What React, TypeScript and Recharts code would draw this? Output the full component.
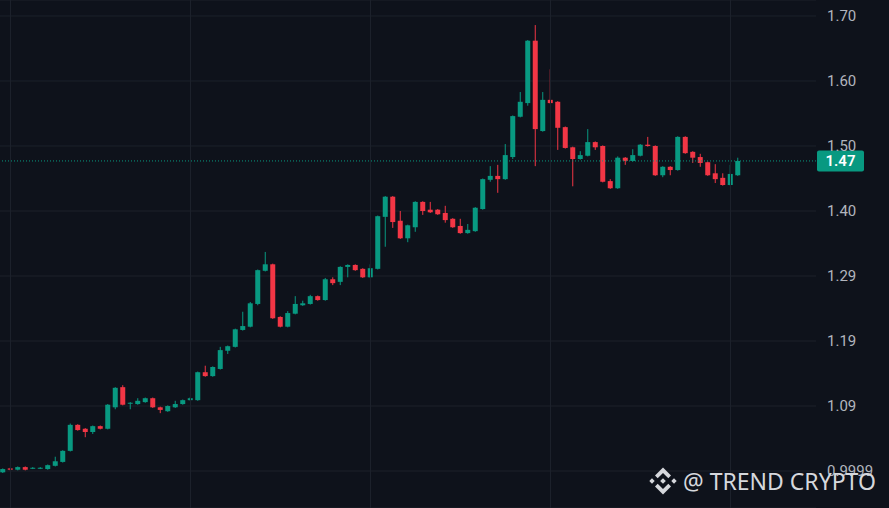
import {
  Bar,
  CartesianGrid,
  ComposedChart,
  ReferenceLine,
  XAxis,
  YAxis,
} from "recharts";

const opens = [
  0.998, 1.004, 1.002, 1.006, 1.004, 1.004, 1.003, 1.008, 1.014, 1.031,
  1.071, 1.065, 1.06, 1.069, 1.065, 1.098, 1.129, 1.104, 1.103, 1.106,
  1.112, 1.098, 1.092, 1.098, 1.103, 1.109, 1.109, 1.152, 1.146, 1.157,
  1.185, 1.191, 1.217, 1.222, 1.257, 1.308, 1.318, 1.237, 1.222, 1.242,
  1.255, 1.257, 1.269, 1.263, 1.295, 1.291, 1.314, 1.317, 1.311, 1.298,
  1.311, 1.391, 1.422, 1.385, 1.358, 1.375, 1.414, 1.402, 1.402, 1.397,
  1.388, 1.377, 1.366, 1.369, 1.403, 1.448, 1.454, 1.449, 1.483, 1.545,
  1.566, 1.662, 1.523, 1.571, 1.568, 1.529, 1.498, 1.48, 1.485, 1.506,
  1.5, 1.446, 1.435, 1.482, 1.477, 1.485, 1.502, 1.5, 1.455, 1.468,
  1.463, 1.514, 1.491, 1.483, 1.475, 1.458, 1.451, 1.44, 1.455,
];
const highs = [
  1.004, 1.005, 1.007, 1.007, 1.006, 1.006, 1.01, 1.022, 1.032, 1.073,
  1.072, 1.066, 1.07, 1.07, 1.103, 1.129, 1.132, 1.106, 1.112, 1.113,
  1.113, 1.099, 1.101, 1.108, 1.11, 1.114, 1.153, 1.162, 1.161, 1.191,
  1.193, 1.219, 1.245, 1.26, 1.31, 1.337, 1.319, 1.238, 1.246, 1.269,
  1.262, 1.271, 1.27, 1.297, 1.298, 1.315, 1.318, 1.318, 1.312, 1.318,
  1.393, 1.423, 1.423, 1.4, 1.379, 1.415, 1.415, 1.414, 1.403, 1.408,
  1.389, 1.388, 1.38, 1.406, 1.45, 1.469, 1.471, 1.503, 1.547, 1.583,
  1.663, 1.686, 1.583, 1.618, 1.569, 1.53, 1.499, 1.492, 1.526, 1.507,
  1.501, 1.449, 1.484, 1.483, 1.495, 1.503, 1.514, 1.501, 1.469, 1.469,
  1.515, 1.515, 1.492, 1.488, 1.476, 1.472, 1.458, 1.471, 1.482,
];
const lows = [
  0.997, 1.001, 1.001, 1.001, 1.003, 1.003, 1.002, 1.007, 1.013, 1.03,
  1.062, 1.052, 1.057, 1.064, 1.064, 1.095, 1.101, 1.095, 1.102, 1.105,
  1.097, 1.089, 1.091, 1.097, 1.102, 1.108, 1.108, 1.145, 1.145, 1.156,
  1.18, 1.19, 1.216, 1.221, 1.255, 1.307, 1.234, 1.221, 1.221, 1.241,
  1.254, 1.256, 1.262, 1.262, 1.286, 1.286, 1.298, 1.308, 1.297, 1.297,
  1.31, 1.345, 1.374, 1.357, 1.352, 1.368, 1.394, 1.397, 1.394, 1.382,
  1.374, 1.365, 1.365, 1.368, 1.402, 1.445, 1.428, 1.448, 1.48, 1.544,
  1.562, 1.469, 1.522, 1.565, 1.494, 1.496, 1.438, 1.479, 1.484, 1.494,
  1.444, 1.434, 1.434, 1.471, 1.476, 1.484, 1.499, 1.454, 1.452, 1.455,
  1.462, 1.488, 1.474, 1.468, 1.454, 1.443, 1.439, 1.439, 1.454,
];
const closes = [
  1.003, 1.002, 1.006, 1.002, 1.005, 1.005, 1.009, 1.015, 1.031, 1.071,
  1.063, 1.06, 1.069, 1.065, 1.102, 1.128, 1.102, 1.105, 1.108, 1.112,
  1.098, 1.094, 1.1, 1.103, 1.109, 1.112, 1.152, 1.146, 1.16, 1.186,
  1.192, 1.218, 1.223, 1.258, 1.309, 1.318, 1.235, 1.222, 1.243, 1.257,
  1.258, 1.269, 1.263, 1.295, 1.289, 1.314, 1.317, 1.309, 1.298, 1.312,
  1.392, 1.422, 1.383, 1.358, 1.378, 1.414, 1.4, 1.398, 1.395, 1.386,
  1.375, 1.366, 1.371, 1.405, 1.449, 1.454, 1.449, 1.486, 1.546, 1.568,
  1.662, 1.526, 1.571, 1.566, 1.528, 1.497, 1.48, 1.486, 1.506, 1.498,
  1.445, 1.435, 1.482, 1.477, 1.486, 1.502, 1.5, 1.455, 1.468, 1.463,
  1.514, 1.489, 1.482, 1.474, 1.455, 1.449, 1.44, 1.457, 1.477,
];

// price scale labels as shown on the chart
const yTicks = [1.0, 1.1, 1.2, 1.3, 1.4, 1.5, 1.6, 1.7];
const yTickLabels = ["0.9999", "1.09", "1.19", "1.29", "1.40", "1.50", "1.60", "1.70"];
// candle indexes where the vertical (session) grid lines fall
const sessionTicks = [1, 25, 49, 73, 97];

const UP = "#089981";
const DOWN = "#f23645";
const BG = "#0e121b";
const GRID = "#1c212b";

const data = opens.map((open, i) => ({
  i,
  open,
  high: highs[i],
  low: lows[i],
  close: closes[i],
  range: [lows[i], highs[i]],
}));

const lastClose = closes[closes.length - 1];

function Candle(props: any) {
  const { x, y, width, height, payload } = props;
  if (!payload) return null;
  const { open, close, high, low } = payload;
  const color = close >= open ? UP : DOWN;
  const top = Math.min(y, y + height);
  const h = Math.abs(height);
  const ratio = high > low ? h / (high - low) : 0;
  const cx = x + width / 2;
  const bodyTop = top + (high - Math.max(open, close)) * ratio;
  const bodyH = Math.max(1, Math.abs(open - close) * ratio);
  return (
    <g>
      <line x1={cx} x2={cx} y1={top} y2={top + h} stroke={color} strokeWidth={1} />
      <rect x={cx - 2.5} y={bodyTop} width={5} height={bodyH} fill={color} />
    </g>
  );
}

function PriceTag(props: any) {
  const { viewBox } = props;
  if (!viewBox) return null;
  const left = viewBox.x + viewBox.width + 1;
  const cy = viewBox.y;
  return (
    <g>
      <rect x={left} y={cy - 10.5} width={47} height={21} rx={2} fill={UP} />
      <text
        x={left + 23.5}
        y={cy + 5.5}
        textAnchor="middle"
        fill="#ffffff"
        fontSize={15}
        fontWeight={600}
        fontFamily="Roboto, sans-serif"
      >
        {(Math.floor(lastClose * 100) / 100).toFixed(2)}
      </text>
    </g>
  );
}

function BinanceMark() {
  return (
    <svg width={30} height={28} viewBox="-15 -14 30 28">
      <g fill="#d6d8dd">
        <polygon points="0,-13.5 8,-5.5 5.3,-2.8 0,-8 -5.3,-2.8 -8,-5.5" />
        <polygon points="0,13.5 8,5.5 5.3,2.8 0,8 -5.3,2.8 -8,5.5" />
        <polygon points="0,-2.8 2.8,0 0,2.8 -2.8,0" />
        <polygon points="-11,-2.7 -8.3,0 -11,2.7 -13.7,0" />
        <polygon points="11,-2.7 13.7,0 11,2.7 8.3,0" />
      </g>
    </svg>
  );
}

export default function App() {
  return (
    <div
      style={{
        position: "fixed",
        left: 0,
        top: 0,
        width: 889,
        height: 508,
        background: BG,
        overflow: "hidden",
      }}
    >
      <ComposedChart
        width={889}
        height={508}
        data={data}
        margin={{ top: 0, right: 0, bottom: 0, left: 0 }}
      >
        <CartesianGrid stroke={GRID} vertical={false} />
        <XAxis
          dataKey="i"
          type="number"
          domain={[-0.4, 108.4]}
          ticks={sessionTicks}
          tick={false}
          tickLine={false}
          axisLine={false}
          height={0}
        />
        <YAxis
          orientation="right"
          type="number"
          domain={[0.9431, 1.7246]}
          allowDataOverflow
          ticks={yTicks}
          interval={0}
          width={73}
          axisLine={false}
          tickLine={false}
          tickSize={0}
          tickMargin={11}
          tick={{ fill: "#b2b5be", fontSize: 15, fontFamily: "Roboto, sans-serif" }}
          tickFormatter={(v: number) => {
            const k = yTicks.findIndex((t) => Math.abs(t - v) < 1e-6);
            return k >= 0 ? yTickLabels[k] : "";
          }}
        />
        {sessionTicks.map((t) => (
          <ReferenceLine key={t} x={t} stroke={GRID} strokeWidth={1} />
        ))}
        <ReferenceLine
          y={lastClose}
          stroke={UP}
          strokeDasharray="1 2"
          strokeWidth={1}
          label={<PriceTag />}
        />
        <Bar
          dataKey="range"
          barSize={5}
          shape={<Candle />}
          isAnimationActive={false}
        />
      </ComposedChart>
      <div
        style={{
          position: "absolute",
          left: 648,
          top: 467,
          display: "flex",
          alignItems: "center",
          gap: 5,
          color: "#d6d8dd",
          fontFamily: "'Noto Sans', sans-serif",
          fontSize: 23,
          lineHeight: "28px",
          whiteSpace: "nowrap",
        }}
      >
        <BinanceMark />
        <span>@ TREND CRYPTO</span>
      </div>
    </div>
  );
}
